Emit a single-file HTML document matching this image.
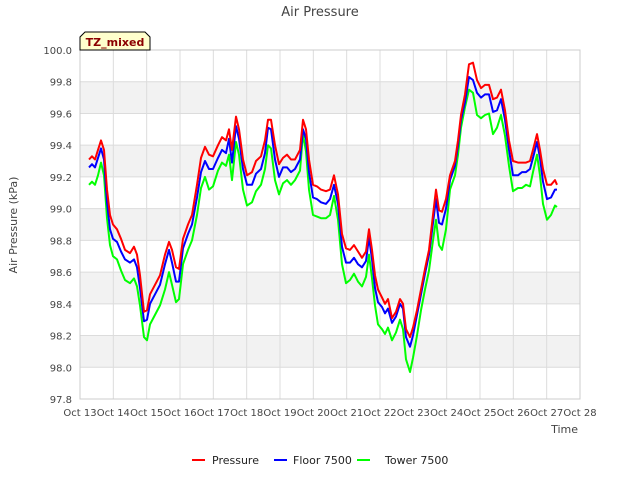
<!DOCTYPE html>
<html><head><meta charset="utf-8"><style>
body{margin:0;background:#fff;font-family:"Liberation Sans","DejaVu Sans",sans-serif;}
svg text{font-family:"DejaVu Sans","Liberation Sans",sans-serif;}
</style></head><body>
<svg id="c" width="640" height="480" xmlns="http://www.w3.org/2000/svg">
<rect width="640" height="480" fill="#fff"/>
<text x="320" y="16" text-anchor="middle" font-size="13" fill="#444">Air Pressure</text>
<g id="grid"></g>
<g id="series"></g>
<g id="axes"></g>
<text x="17" y="225" transform="rotate(-90 17 225)" text-anchor="middle" font-size="11" fill="#444">Air Pressure (kPa)</text>
<text x="578" y="433" text-anchor="end" font-size="11" fill="#444">Time</text>
<g>
<path d="M80,50 L80,37 L85,32 L145,32 L150,37 L150,50 Z" fill="#ffffcc" stroke="#000" stroke-width="1"/>
<text x="115" y="46" text-anchor="middle" font-size="11" font-weight="bold" fill="#8b0000">TZ_mixed</text>
</g>
<g>
<g><line x1="192" y1="460" x2="205" y2="460" stroke="#ff0000" stroke-width="2"/><text x="212" y="464" font-size="11" fill="#222">Pressure</text></g>
<g><line x1="274" y1="460" x2="287" y2="460" stroke="#0000ff" stroke-width="2"/><text x="293" y="464" font-size="11" fill="#222">Floor 7500</text></g>
<g><line x1="357" y1="460" x2="370" y2="460" stroke="#00ff00" stroke-width="2"/><text x="385" y="464" font-size="11" fill="#222">Tower 7500</text></g>
</g>
</svg>
<script>
const days=[13.27,13.36,13.45,13.54,13.63,13.72,13.81,13.90,13.99,14.11,14.23,14.35,14.50,14.62,14.71,14.80,14.92,15.01,15.10,15.25,15.40,15.55,15.67,15.76,15.88,15.97,16.09,16.24,16.36,16.51,16.63,16.75,16.87,16.99,17.14,17.26,17.38,17.47,17.56,17.68,17.77,17.89,18.01,18.16,18.28,18.43,18.55,18.64,18.73,18.85,18.97,19.09,19.21,19.33,19.45,19.60,19.69,19.78,19.87,19.99,20.11,20.23,20.38,20.50,20.62,20.74,20.86,20.98,21.10,21.22,21.34,21.46,21.58,21.67,21.76,21.85,21.94,22.06,22.15,22.24,22.36,22.48,22.60,22.69,22.78,22.90,22.99,23.11,23.23,23.35,23.47,23.59,23.68,23.77,23.86,23.98,24.10,24.25,24.34,24.43,24.55,24.67,24.79,24.91,25.03,25.15,25.27,25.39,25.51,25.63,25.75,25.87,25.99,26.14,26.26,26.38,26.50,26.59,26.71,26.80,26.89,27.01,27.13,27.25,27.31];
const pressure=[99.31,99.33,99.31,99.37,99.43,99.37,99.12,98.96,98.90,98.87,98.81,98.74,98.72,98.76,98.71,98.58,98.35,98.36,98.46,98.52,98.58,98.71,98.79,98.74,98.63,98.62,98.81,98.90,98.96,99.15,99.32,99.39,99.34,99.33,99.40,99.45,99.43,99.50,99.37,99.58,99.50,99.31,99.21,99.23,99.30,99.33,99.43,99.56,99.56,99.40,99.28,99.32,99.34,99.31,99.31,99.37,99.56,99.50,99.31,99.15,99.14,99.12,99.11,99.12,99.21,99.09,98.84,98.75,98.74,98.77,98.73,98.69,98.73,98.87,98.74,98.58,98.49,98.44,98.40,98.43,98.31,98.35,98.43,98.40,98.24,98.19,98.25,98.36,98.49,98.62,98.74,98.96,99.12,98.99,98.98,99.06,99.21,99.30,99.43,99.59,99.72,99.91,99.92,99.81,99.76,99.78,99.78,99.69,99.70,99.75,99.62,99.43,99.30,99.29,99.29,99.29,99.30,99.37,99.47,99.37,99.25,99.15,99.15,99.18,99.15];
const floor7500=[99.26,99.28,99.26,99.32,99.38,99.31,99.04,98.87,98.81,98.79,98.73,98.68,98.66,98.68,98.63,98.50,98.29,98.30,98.40,98.46,98.52,98.65,98.74,98.66,98.54,98.54,98.75,98.84,98.90,99.07,99.23,99.30,99.25,99.25,99.32,99.37,99.35,99.44,99.29,99.52,99.44,99.25,99.15,99.15,99.22,99.25,99.35,99.51,99.50,99.31,99.20,99.26,99.26,99.23,99.25,99.31,99.50,99.44,99.23,99.07,99.06,99.04,99.03,99.06,99.15,99.03,98.76,98.66,98.66,98.69,98.65,98.63,98.67,98.82,98.68,98.50,98.41,98.38,98.34,98.37,98.28,98.32,98.40,98.37,98.19,98.13,98.20,98.33,98.46,98.59,98.71,98.91,99.06,98.91,98.90,99.00,99.18,99.27,99.40,99.56,99.67,99.83,99.81,99.73,99.70,99.72,99.72,99.61,99.62,99.69,99.56,99.37,99.21,99.21,99.23,99.23,99.25,99.32,99.42,99.32,99.17,99.06,99.07,99.12,99.12];
const tower7500=[99.15,99.17,99.15,99.21,99.29,99.21,98.94,98.77,98.70,98.68,98.61,98.55,98.53,98.56,98.51,98.39,98.19,98.17,98.27,98.33,98.39,98.49,98.60,98.52,98.41,98.43,98.65,98.74,98.80,98.96,99.13,99.20,99.12,99.14,99.24,99.29,99.27,99.34,99.18,99.42,99.34,99.12,99.02,99.04,99.11,99.15,99.25,99.40,99.38,99.18,99.09,99.16,99.18,99.15,99.18,99.24,99.47,99.36,99.12,98.96,98.95,98.94,98.94,98.96,99.08,98.93,98.65,98.53,98.55,98.59,98.54,98.51,98.57,98.71,98.56,98.39,98.27,98.24,98.21,98.25,98.17,98.22,98.30,98.24,98.05,97.97,98.06,98.20,98.36,98.49,98.61,98.80,98.93,98.77,98.74,98.87,99.12,99.21,99.34,99.51,99.64,99.75,99.73,99.59,99.57,99.59,99.60,99.47,99.51,99.59,99.46,99.27,99.11,99.13,99.13,99.15,99.14,99.23,99.34,99.21,99.03,98.93,98.96,99.02,99.01];
const yTicks=[97.8,98.0,98.2,98.4,98.6,98.8,99.0,99.2,99.4,99.6,99.8,100.0];
const xTickDays=[13,14,15,16,17,18,19,20,21,22,23,24,25,26,27,28];
const xTickLabels=["Oct 13","Oct 14","Oct 15","Oct 16","Oct 17","Oct 18","Oct 19","Oct 20","Oct 21","Oct 22","Oct 23","Oct 24","Oct 25","Oct 26","Oct 27","Oct 28"];

const L=80,R=580,T=50,B=399,x0=13,x1=28,y0=97.8,y1=100.0;
const NS="http://www.w3.org/2000/svg";
const X=d=>L+(d-x0)/(x1-x0)*(R-L);
const Y=v=>B-(v-y0)/(y1-y0)*(B-T);
function mk(tag,attrs,parent){const e=document.createElementNS(NS,tag);for(const k in attrs)e.setAttribute(k,attrs[k]);parent.appendChild(e);return e;}
const grid=document.getElementById('grid'),axes=document.getElementById('axes'),ser=document.getElementById('series');
for(let i=0;i<yTicks.length-1;i++){
  if(i%2===1){const r=mk('rect',{x:L,y:Y(yTicks[i+1]),width:R-L,height:Y(yTicks[i])-Y(yTicks[i+1]),fill:'#f2f2f2'},grid);
  
  }
}
yTicks.forEach(v=>{
  const l=mk('line',{x1:L,x2:R,y1:Y(v),y2:Y(v),stroke:'#dcdcdc','stroke-width':1},grid);
  
  
  const t=mk('text',{x:L-8,y:Y(v)+4,'text-anchor':'end','font-size':10,fill:'#444'},axes);
  t.textContent=v.toFixed(1);
  
  
});
xTickDays.forEach((d,i)=>{
  const l=mk('line',{x1:X(d),x2:X(d),y1:T,y2:B,stroke:'#dcdcdc','stroke-width':1},grid);
  
  
  const t=mk('text',{x:X(d),y:B+17,'text-anchor':'middle','font-size':10,fill:'#444'},axes);
  t.textContent=xTickLabels[i];
  
  
});
const fr=mk('rect',{x:L,y:T,width:R-L,height:B-T,fill:'none',stroke:'#ccc'},axes);


function line(vals,color,name){
  const d=vals.map((v,i)=>(i?'L':'M')+X(days[i]).toFixed(1)+','+Y(v).toFixed(1)).join(' ');
  const p=mk('path',{d:d,fill:'none',stroke:color,'stroke-width':2,'stroke-linejoin':'round'},ser);
  
  
}
line(tower7500,'#00ff00','tower-7500-line');
line(floor7500,'#0000ff','floor-7500-line');
line(pressure,'#ff0000','pressure-line');
</script>
</body></html>
